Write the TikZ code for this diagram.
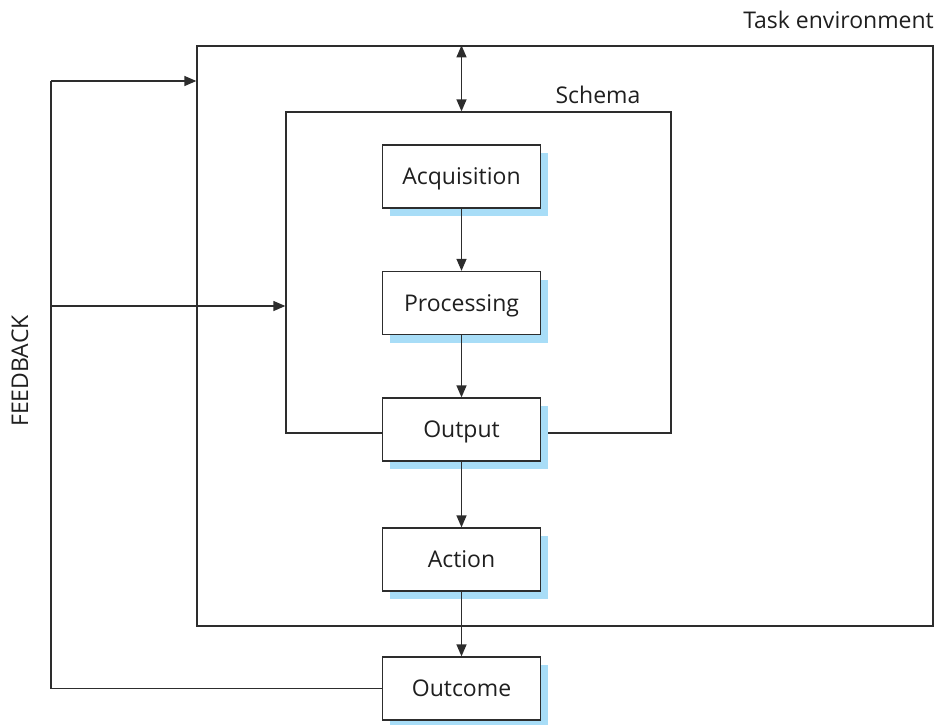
\documentclass[tikz,border=0pt]{standalone}
\usepackage{fontspec}
\setmainfont{Open Sans}
\usetikzlibrary{arrows.meta,shadows}
\definecolor{shadowblue}{RGB}{168,221,247}
\definecolor{linegray}{RGB}{45,45,45}
\begin{document}
\begin{tikzpicture}[x=1pt,y=-1pt,
  line/.style={draw=linegray, line width=1.3pt},
  arr/.style={line, -{Triangle[length=12pt,width=10pt]}},
  darr/.style={line, {Triangle[length=12pt,width=10pt]}-{Triangle[length=12pt,width=10pt]}},
  frame/.style={line, minimum width=#1, inner sep=0pt},
  box/.style={line, fill=white, minimum width=158pt, minimum height=63pt, inner sep=0pt,
    text height=16.4pt, text depth=0pt,
    font=\fontsize{23}{27}\selectfont, text=black!88,
    drop shadow={shadow xshift=7pt, shadow yshift=-8pt, fill=shadowblue, draw=none, opacity=1}},
  lbl/.style={font=\fontsize{23}{27}\selectfont, text=black!88, inner sep=0pt}]
\useasboundingbox (0,0) rectangle (941,724);
% frames
\node[frame=736pt, minimum height=580pt] (te) at (565,336) {};
\node[frame=385pt, minimum height=321pt] (sc) at (478.5,272.5) {};
% labels
\node[lbl, anchor=base east] (telbl) at (934,28) {Task environment};
\node[lbl, anchor=base] (sclbl) at (598,103) {Schema};
\node[lbl, rotate=90] (fblbl) at (20,371) {FEEDBACK};
% boxes
\node[box] (acq) at (461.5,176.5) {Acquisition};
\node[box] (proc) at (461.5,303) {Processing};
\node[box] (out) at (461.5,429.5) {Output};
\node[box] (act) at (461.5,559.5) {Action};
\node[box] (outc) at (461.5,688.5) {Outcome};
% connectors
\draw[arr] (acq) -- (proc);
\draw[arr] (proc) -- (out);
\draw[arr] (out) -- (act);
\draw[arr] (act) -- (outc);
\draw[darr] (acq.north |- te.north) -- (acq.north |- sc.north);
\coordinate (fbtop) at (51,81);
\coordinate (fbmid) at (51,306);
\draw[line] (outc.west) -| (fbtop);
\draw[arr] (fbtop) -- (fbtop -| te.west);
\draw[arr] (fbmid) -- (fbmid -| sc.west);
\end{tikzpicture}
\end{document}
